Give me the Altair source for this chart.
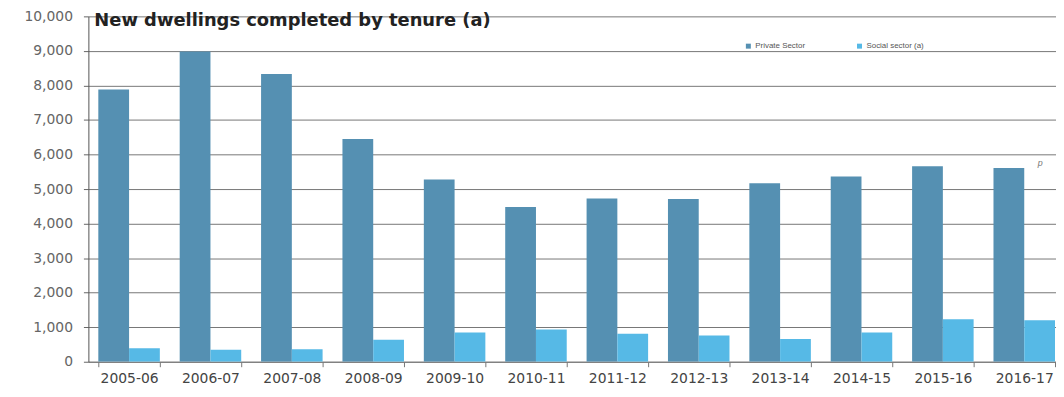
import altair as alt
import pandas as pd

years = ["2005-06", "2006-07", "2007-08", "2008-09", "2009-10", "2010-11",
         "2011-12", "2012-13", "2013-14", "2014-15", "2015-16", "2016-17"]
private = [7880, 8980, 8330, 6450, 5280, 4480, 4730, 4710, 5170, 5360, 5660, 5610]
social = [390, 350, 360, 640, 850, 930, 810, 760, 660, 850, 1230, 1200]
series = ["Private Sector", "Social sector (a)"]
colors = ["#5590b2", "#56b9e6"]
title_text = "New dwellings completed by tenure (a)"
y_ticks = list(range(0, 10001, 1000))
note_text = ["p"]

rows = []
for i, yr in enumerate(years):
    rows.append({"year": yr, "series": series[0], "value": private[i]})
    rows.append({"year": yr, "series": series[1], "value": social[i]})
df = pd.DataFrame(rows)

note_df = pd.DataFrame({"year": [years[-1]], "value": [private[-1]], "note": note_text})

x_enc = alt.X(
    "year:N", sort=years, title=None,
    scale=alt.Scale(paddingInner=0.244, paddingOuter=0.122, range=[0, 984]),
    axis=alt.Axis(labelAngle=0, tickBand="extent", tickSize=5, labelPadding=5,
                  labelFont="DejaVu Sans", labelFontSize=14, labelColor="#444",
                  domainColor="#777", tickColor="#777", labelOverlap=False,
                  grid=False),
)
y_enc = alt.Y(
    "value:Q", title=None,
    scale=alt.Scale(domain=[0, 10000], nice=False),
    axis=alt.Axis(values=y_ticks, format=",.0f", tickSize=5, labelPadding=11,
                  labelFont="DejaVu Sans", labelFontSize=14, labelColor="#666",
                  domainColor="#555", tickColor="#666", grid=True,
                  gridColor="#777", gridWidth=1),
)

bars = alt.Chart(df).mark_bar(clip=True).encode(
    x=x_enc,
    xOffset=alt.XOffset("series:N", sort=series,
                        scale=alt.Scale(paddingInner=0, paddingOuter=0)),
    y=y_enc,
    color=alt.Color(
        "series:N", sort=series,
        scale=alt.Scale(domain=series, range=colors),
        legend=alt.Legend(title=None, orient="none", legendX=661, legendY=26,
                          direction="horizontal", symbolType="square",
                          symbolSize=25, symbolStrokeWidth=0,
                          labelFont="Liberation Sans", labelFontSize=8,
                          labelColor="#555", labelOffset=3, columnPadding=50,
                          padding=0),
    ),
)

note = alt.Chart(note_df).mark_text(
    dx=16, dy=-5, fontSize=9, color="#777", fontStyle="italic", clip=True
).encode(x=x_enc, y=y_enc, text="note:N")

chart = alt.layer(bars, note).properties(
    width=975,
    height=348,
    autosize=alt.AutoSizeParams(type="none"),
    padding={"left": 81, "top": 7, "right": 0, "bottom": 22},
    title=alt.TitleParams(title_text, anchor="start", frame="group",
                          fontSize=18, font="DejaVu Sans", fontWeight="bold",
                          color="#222", baseline="alphabetic", offset=-35,
                          dx=6),
    background="white",
).configure_view(stroke="transparent")

chart.save("out.html", embed_options={"renderer": "svg", "actions": False})
